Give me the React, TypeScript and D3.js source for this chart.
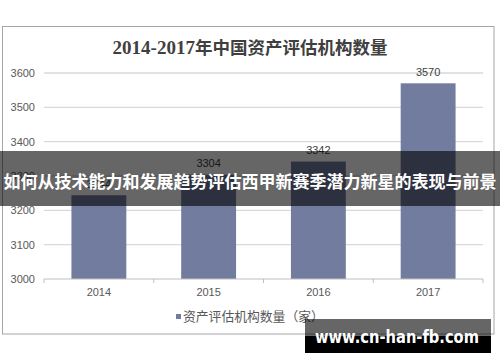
import React from "react";
import * as d3 from "d3";

const years = ["2014", "2015", "2016", "2017"];
const counts = [3244, 3304, 3342, 3570];
const yTicks = [3000, 3100, 3200, 3300, 3400, 3500, 3600];
const titleNum = "2014-2017";
const titleCn = "年中国资产评估机构数量";
const legendLabel = "资产评估机构数量（家）";
const bannerText = "如何从技术能力和发展趋势评估西甲新赛季潜力新星的表现与前景";
const watermark = "www.cn-han-fb.com";

export default function App() {
  const W = 500, H = 362;
  const x = d3.scaleBand<string>().domain(years).range([44, 483]).paddingInner(0.5).paddingOuter(0.25);
  const y = d3.scaleLinear().domain([3000, 3600]).range([279, 73]);
  const step = x.step();
  const bounds = d3.range(years.length + 1).map((i) => 44 + i * step);
  const sans = "Liberation Sans, Arial, 'Noto Sans CJK SC', sans-serif";
  const cjk = "'Noto Sans CJK SC', sans-serif";
  return (
    <svg width={W} height={H} style={{ position: "absolute", left: 0, top: 0, background: "#fff" }}>
      <rect x={0} y={0} width={W} height={H} fill="#fff" />
      <rect x={2.5} y={26.5} width={491.5} height={307.5} fill="#fff" stroke="#a6a6a6" strokeWidth={1} />
      <text x={250} y={54} textAnchor="middle" fill="#404040" fontWeight="bold">
        <tspan fontFamily="Liberation Serif, serif" fontSize={19}>{titleNum}</tspan>
        <tspan fontFamily={cjk} fontSize={17.5} fontWeight={600}>{titleCn}</tspan>
      </text>
      {yTicks.map((t) => (
        <g key={t}>
          {t !== 3000 && (
            <line x1={44} x2={483} y1={y(t)} y2={y(t)} stroke="#d9d9d9" strokeWidth={1.3} />
          )}
          <text x={35} y={y(t)} dy="0.35em" textAnchor="end" fontFamily={sans} fontSize={11} fill="#595959">{t}</text>
        </g>
      ))}
      {years.map((yr, i) => (
        <g key={yr}>
          <rect x={x(yr)} y={y(counts[i])} width={x.bandwidth()} height={y(3000) - y(counts[i])} fill="#727c9f" />
          <text x={(x(yr) as number) + x.bandwidth() / 2} y={y(counts[i]) - 11.5} dy="0.35em" textAnchor="middle" fontFamily={sans} fontSize={11} fill="#404040">{counts[i]}</text>
          <text x={(x(yr) as number) + x.bandwidth() / 2} y={292} dy="0.35em" textAnchor="middle" fontFamily={sans} fontSize={11} fill="#595959">{yr}</text>
        </g>
      ))}
      <line x1={44} x2={483} y1={y(3000)} y2={y(3000)} stroke="#bfbfbf" strokeWidth={1} />
      {bounds.map((b, i) => (
        <line key={i} x1={b} x2={b} y1={y(3000)} y2={y(3000) + 4} stroke="#bfbfbf" strokeWidth={1} />
      ))}
      <rect x={176} y={314} width={5} height={5} fill="#727c9f" />
      <text x={183} y={316.5} dy="0.35em" fontFamily={cjk} fontSize={12.8} fill="#595959">{legendLabel}</text>
      <rect x={0} y={151} width={W} height={55} fill="rgba(0,0,0,0.6)" />
      <text x={250} y={182} dy="0.35em" textAnchor="middle" fontFamily={cjk} fontSize={17} fontWeight="bold" fill="#fff">{bannerText}</text>
      <rect x={305} y={319} width={186} height={17} fill="rgba(0,0,0,0.6)" />
      <rect x={305} y={336} width={186} height={17} fill="#000" />
      <text x={397} y={337} dy="0.35em" textAnchor="middle" fontFamily="'DejaVu Sans', sans-serif" fontSize={17} fontWeight="bold" fill="#fff" textLength={164} lengthAdjust="spacingAndGlyphs">{watermark}</text>
    </svg>
  );
}
